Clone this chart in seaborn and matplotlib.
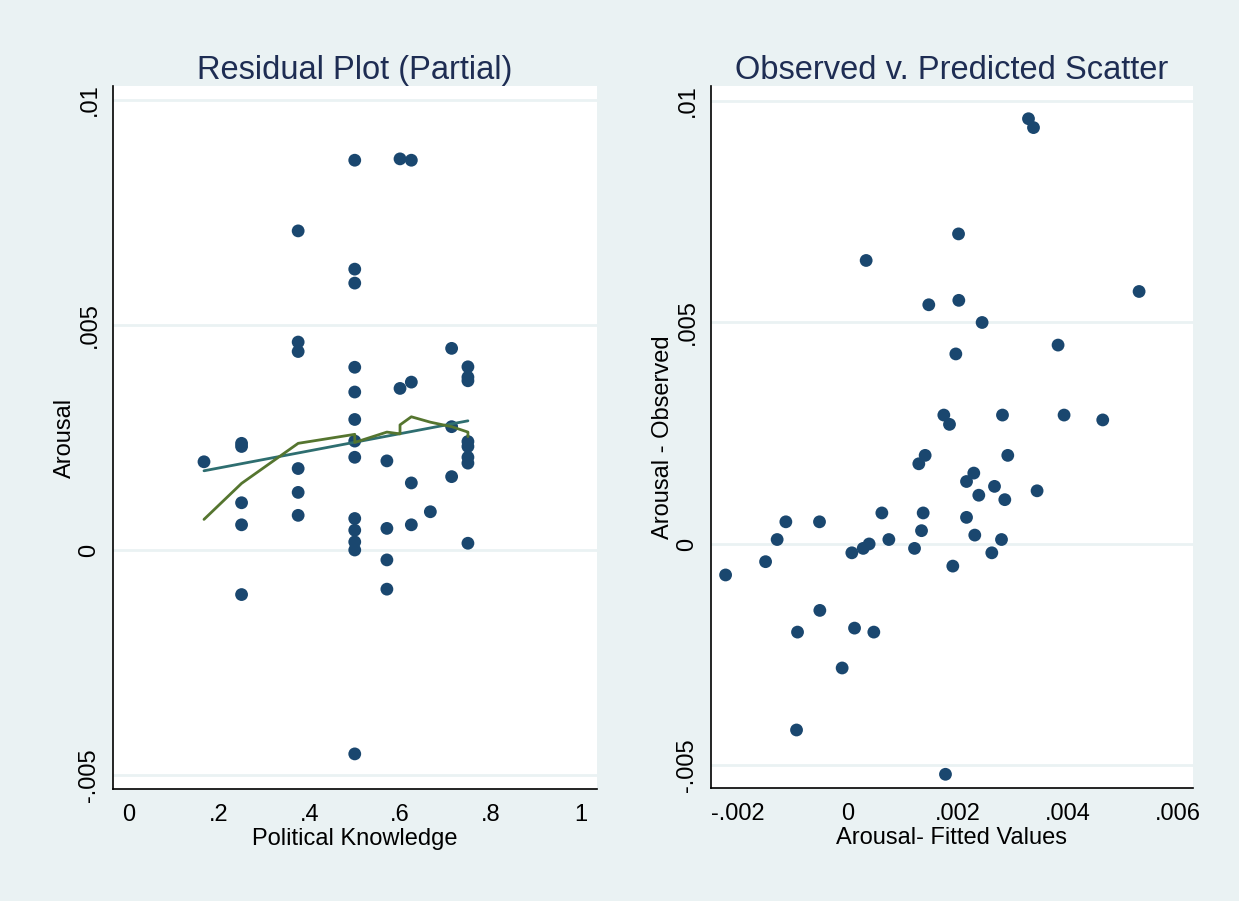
import matplotlib
matplotlib.use("Agg")
import matplotlib.pyplot as plt
import pandas as pd
import seaborn as sns

# Left panel: partial residuals against political knowledge
knowledge = [0.167,
             0.25, 0.25, 0.25, 0.25, 0.25,
             0.375, 0.375, 0.375, 0.375, 0.375, 0.375,
             0.5, 0.5, 0.5, 0.5, 0.5, 0.5, 0.5, 0.5, 0.5, 0.5, 0.5, 0.5, 0.5,
             0.571, 0.571, 0.571, 0.571,
             0.6, 0.6,
             0.625, 0.625, 0.625, 0.625,
             0.667,
             0.714, 0.714, 0.714,
             0.75, 0.75, 0.75, 0.75, 0.75, 0.75, 0.75, 0.75]
arousal_resid = [0.00196,
                 0.00237, 0.00230, 0.00105, 0.00056, -0.00099,
                 0.00709, 0.00462, 0.00441, 0.00181, 0.00128, 0.00077,
                 0.00866, 0.00624, 0.00593, 0.00406, 0.00351, 0.00290, 0.00242,
                 0.00206, 0.00070, 0.00044, 0.00018, 0.00000, -0.00453,
                 0.00198, 0.00048, -0.00022, -0.00087,
                 0.00869, 0.00359,
                 0.00866, 0.00373, 0.00149, 0.00056,
                 0.00085,
                 0.00448, 0.00274, 0.00163,
                 0.00407, 0.00384, 0.00376, 0.00241, 0.00230, 0.00206, 0.00193, 0.00015]

# linear fit line
fit_x = [0.167, 0.75]
fit_y = [0.00176, 0.00287]

# lowess smoother (in drawing order)
lowess_x = [0.167, 0.25, 0.375, 0.5, 0.5, 0.571, 0.6, 0.6, 0.625, 0.667, 0.714, 0.75, 0.75]
lowess_y = [0.00068, 0.00148, 0.00237, 0.00257, 0.00239, 0.00262, 0.00258, 0.00278,
            0.00296, 0.00284, 0.00274, 0.00262, 0.00252]

# Right panel: observed vs fitted
fitted = [0.003285, 0.003376, 0.002015, 0.000338, 0.005293, 0.001475, 0.002020, 0.002443,
          0.003822, 0.001966, 0.001748, 0.001851, 0.002813, 0.003931, 0.004633, 0.001409,
          0.001294, 0.002909, 0.002292, 0.002160, 0.002668, 0.002383, 0.002855, 0.003441,
          -0.001120, -0.000509, -0.001278, 0.000623, 0.001373, 0.001343, 0.002160, 0.002310,
          0.002795, 0.000750, 0.000392, 0.000284, 0.000078, 0.001216, 0.002619, 0.001911,
          -0.001488, -0.002214, -0.000503, -0.000908, 0.000127, 0.000477, -0.000098,
          -0.000926, 0.001778]
observed = [0.00960, 0.00940, 0.00700, 0.00640, 0.00570, 0.00540, 0.00550, 0.00500,
            0.00449, 0.00429, 0.00291, 0.00270, 0.00291, 0.00291, 0.00280, 0.00200,
            0.00181, 0.00200, 0.00160, 0.00141, 0.00130, 0.00110, 0.00100, 0.00120,
            0.00050, 0.00050, 0.00010, 0.00070, 0.00070, 0.00030, 0.00060, 0.00020,
            0.00010, 0.00010, 0.00000, -0.00010, -0.00020, -0.00010, -0.00020, -0.00050,
            -0.00040, -0.00070, -0.00150, -0.00199, -0.00190, -0.00199, -0.00280,
            -0.00420, -0.00520]

y_ticks = [-0.005, 0, 0.005, 0.01]
y_ticklabels = ["-.005", "0", ".005", ".01"]
left_xticks = [0, 0.2, 0.4, 0.6, 0.8, 1]
left_xticklabels = ["0", ".2", ".4", ".6", ".8", "1"]
right_xticks = [-0.002, 0, 0.002, 0.004, 0.006]
right_xticklabels = ["-.002", "0", ".002", ".004", ".006"]

BG = "#EAF2F3"
NAVY = "#1A476F"
TITLE_C = "#1E2D53"

sns.set_theme(style="white")
plt.rcParams["font.family"] = ["Liberation Sans", "DejaVu Sans"]

fig = plt.figure(figsize=(12.39, 9.01), dpi=100, facecolor=BG)
ax1 = fig.add_axes([0.0912, 0.1243, 0.3906, 0.7803])
ax2 = fig.add_axes([0.5738, 0.1254, 0.3890, 0.7792])

left_df = pd.DataFrame({"knowledge": knowledge, "resid": arousal_resid})
right_df = pd.DataFrame({"fitted": fitted, "observed": observed})

sns.scatterplot(data=left_df, x="knowledge", y="resid", ax=ax1, color=NAVY,
                s=85, edgecolor="none", zorder=3)
sns.lineplot(x=fit_x, y=fit_y, ax=ax1, color="#2E6E70", lw=2,
             estimator=None, sort=False, zorder=4)
sns.lineplot(x=lowess_x, y=lowess_y, ax=ax1, color="#55752F", lw=2,
             estimator=None, sort=False, zorder=4)

sns.scatterplot(data=right_df, x="fitted", y="observed", ax=ax2, color=NAVY,
                s=85, edgecolor="none", zorder=3)


def style(ax, xticks, xlabels, title, xlabel, ylabel):
    ax.set_facecolor("white")
    ax.set_yticks(y_ticks)
    ax.set_yticklabels(y_ticklabels, rotation=90, va="center")
    ax.set_xticks(xticks)
    ax.set_xticklabels(xlabels)
    for v in y_ticks:
        ax.axhline(v, color=BG, lw=2, zorder=1)
    for side in ["top", "right"]:
        ax.spines[side].set_visible(False)
    for side in ["left", "bottom"]:
        ax.spines[side].set_color("black")
        ax.spines[side].set_linewidth(1.2)
    ax.tick_params(axis="both", direction="out", length=6, width=1.2,
                   color="#333333", labelsize=17, labelcolor="black", pad=3)
    ax.tick_params(axis="x", length=8)
    ax.set_title(title, fontsize=23.5, color=TITLE_C, pad=5)
    ax.set_xlabel(xlabel, fontsize=17, color="black", labelpad=1)
    ax.set_ylabel(ylabel, fontsize=17, color="black", labelpad=2)


style(ax1, left_xticks, left_xticklabels, "Residual Plot (Partial)",
      "Political Knowledge", "Arousal")
ax1.set_xlim(-0.034, 1.035)
ax1.set_ylim(-0.00531, 0.01031)

style(ax2, right_xticks, right_xticklabels, "Observed v. Predicted Scatter",
      "Arousal- Fitted Values", "Arousal - Observed")
ax2.set_xlim(-0.00248, 0.00627)
ax2.set_ylim(-0.00551, 0.01034)

fig.savefig("out.png", dpi=100, facecolor=BG)
